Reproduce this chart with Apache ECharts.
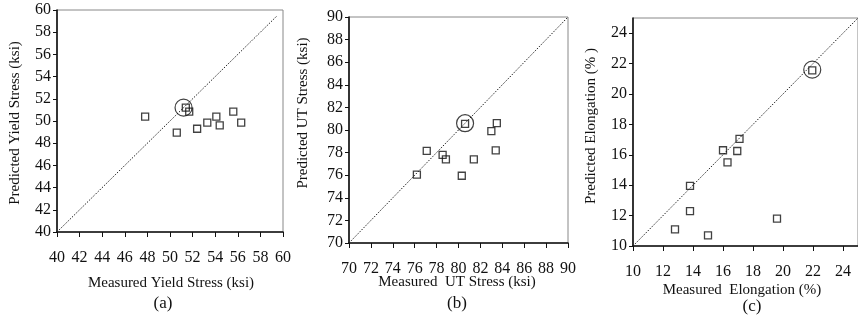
<!DOCTYPE html>
<html>
<head>
<meta charset="utf-8">
<script src="https://cdn.jsdelivr.net/npm/echarts@6/dist/echarts.min.js"></script>
<style>
html,body{margin:0;padding:0;background:#fff;}
#c{width:858px;height:320px;}
</style>
</head>
<body>
<div id="c"></div>
<script>
// Panel (a): Yield stress
var yieldMeasured  = [47.8, 50.6, 51.4, 51.7, 52.4, 53.3, 54.1, 54.4, 55.6, 56.3];
var yieldPredicted = [50.4, 48.95, 51.2, 50.85, 49.3, 49.85, 50.4, 49.6, 50.85, 49.85];
var yieldCircle = [51.2, 51.2];
var yieldDiag = [40, 59.5];
// Panel (b): UT stress
var utsMeasured  = [76.2, 77.1, 78.55, 78.85, 80.6, 80.3, 81.4, 83.0, 83.5, 83.4];
var utsPredicted = [76.05, 78.15, 77.8, 77.4, 80.55, 75.95, 77.4, 79.9, 80.6, 78.2];
var utsCircle = [80.6, 80.6];
var utsDiag = [70, 90];
// Panel (c): Elongation
var elMeasured  = [21.95, 17.1, 16.0, 16.95, 16.3, 13.8, 13.8, 12.8, 15.0, 19.6];
var elPredicted = [21.55, 17.05, 16.3, 16.25, 15.5, 13.95, 12.3, 11.1, 10.7, 11.8];
var elCircle = [21.95, 21.6];
var elDiag = [10, 25];
// Tick labels
var ticksA = [40,42,44,46,48,50,52,54,56,58,60];
var ticksB = [70,72,74,76,78,80,82,84,86,88,90];
var ticksC = [10,12,14,16,18,20,22,24];
// Texts
var xNames = ['Measured Yield Stress (ksi)', 'Measured  UT Stress (ksi)', 'Measured  Elongation (%)'];
var yNames = ['Predicted Yield Stress (ksi)', 'Predicted UT Stress (ksi)', 'Predicted Elongation (% )'];
var panelTags = ['(a)', '(b)', '(c)'];

var FONT = '"Liberation Serif","Times New Roman",serif';
var chart = echarts.init(document.getElementById('c'), null, {renderer:'canvas'});

function zip(a,b){ return a.map(function(v,i){ return [v,b[i]]; }); }

var grids = [
  {left:57, top:10, width:226, height:222},
  {left:349, top:17, width:219, height:226},
  {left:633, top:18, width:225, height:228}
];
var ranges = [[ticksA[0], ticksA[ticksA.length-1]], [ticksB[0], ticksB[ticksB.length-1]], [ticksC[0], 25]];
var tickSets = [ticksA, ticksB, ticksC];

function mkAxis(i, isX){
  var ax = {
    type:'value', gridIndex:i, min:ranges[i][0], max:ranges[i][1], interval:2,
    splitLine:{show:false},
    axisLine:{show:true, lineStyle:{color:'#111', width:1.6}},
    axisTick:{show:true, inside:false, length:isX?5:4, lineStyle:{color:'#111', width:1}},
    axisLabel:{show:true, color:'#111', fontFamily:FONT, fontSize:16, margin:isX?18:6}
  };
  if (i === 2) {
    ax.axisLabel.customValues = tickSets[i];
    ax.axisTick.customValues = tickSets[i];
  }
  return ax;
}

var xAxes = [0,1,2].map(function(i){ return mkAxis(i,true); });
var yAxes = [0,1,2].map(function(i){ return mkAxis(i,false); });

var pts = [zip(yieldMeasured, yieldPredicted), zip(utsMeasured, utsPredicted), zip(elMeasured, elPredicted)];
var circles = [yieldCircle, utsCircle, elCircle];
var diags = [yieldDiag, utsDiag, elDiag];

var series = [];
[0,1,2].forEach(function(i){
  series.push({
    type:'line', xAxisIndex:i, yAxisIndex:i, silent:true, symbol:'none',
    data:[[diags[i][0],diags[i][0]],[diags[i][1],diags[i][1]]],
    lineStyle:{color:'#222', width:1, type:[1.5,1.5]}, z:2
  });
  series.push({
    type:'scatter', xAxisIndex:i, yAxisIndex:i, symbol:'rect', symbolSize:7,
    data:pts[i], itemStyle:{color:'rgba(255,255,255,0)', borderColor:'#111', borderWidth:1.3}, z:3
  });
  series.push({
    type:'scatter', xAxisIndex:i, yAxisIndex:i, symbol:'circle', symbolSize:17,
    data:[circles[i]], itemStyle:{color:'rgba(255,255,255,0)', borderColor:'#111', borderWidth:1.2}, z:4
  });
});

var textStyleBase = {fill:'#111', font:'15px ' + FONT, textAlign:'center', textVerticalAlign:'middle'};
var graphics = [];
var xNamePos = [[171,283],[457,282],[742,290]];
var yNamePos = [[15,123],[303,113],[591,126]];
var tagPos = [[163,304],[457,304],[752,307]];
[0,1,2].forEach(function(i){
  graphics.push({type:'text', x:xNamePos[i][0], y:xNamePos[i][1], style:Object.assign({text:xNames[i]}, textStyleBase)});
  graphics.push({type:'text', x:yNamePos[i][0], y:yNamePos[i][1], rotation:Math.PI/2, style:Object.assign({text:yNames[i]}, textStyleBase)});
  graphics.push({type:'text', x:tagPos[i][0], y:tagPos[i][1], style:Object.assign({}, textStyleBase, {text:panelTags[i], font:'17px ' + FONT})});
});

chart.setOption({
  animation:false,
  backgroundColor:'#fff',
  grid: grids.map(function(g){ return Object.assign({show:true, borderColor:'#888', borderWidth:1, backgroundColor:'transparent'}, g); }),
  xAxis: xAxes,
  yAxis: yAxes,
  series: series,
  graphic: graphics
});
</script>
</body>
</html>
